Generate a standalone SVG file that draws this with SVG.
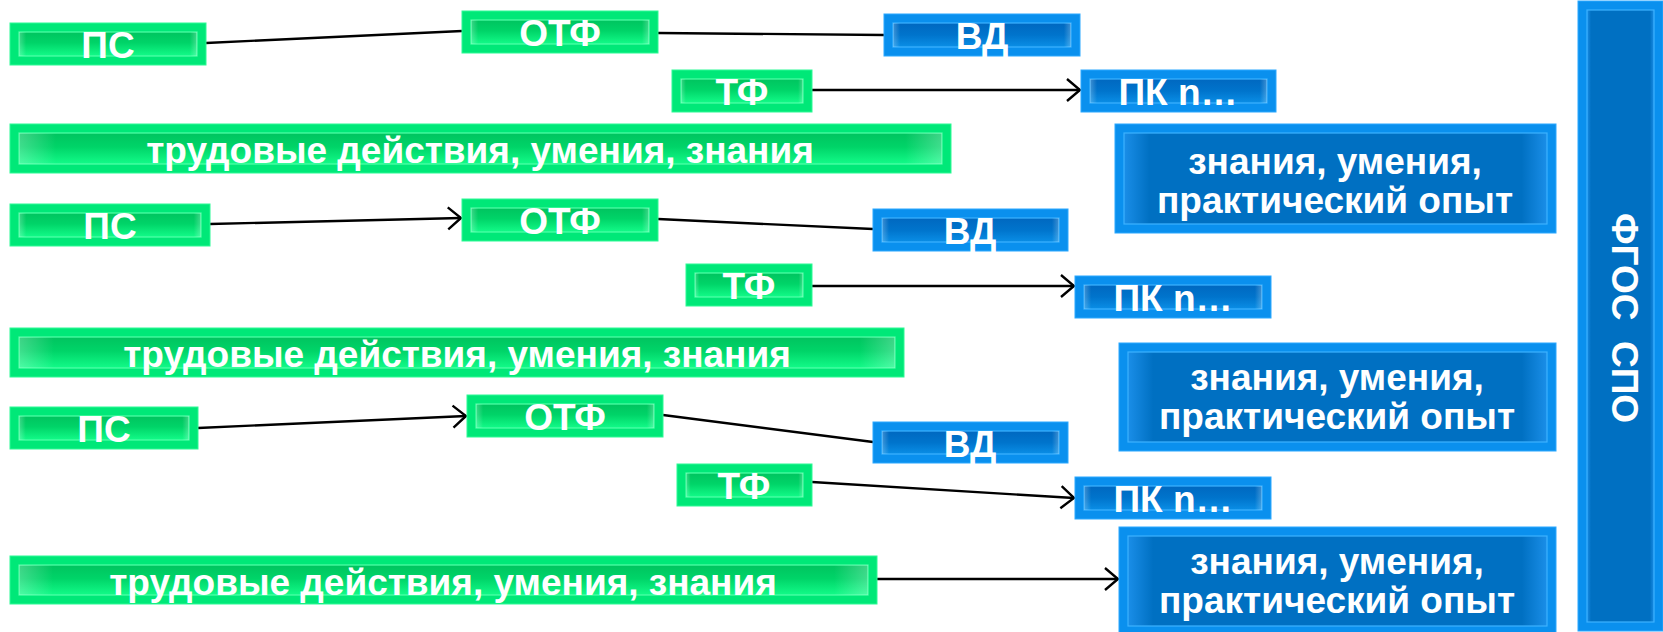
<svg xmlns="http://www.w3.org/2000/svg" width="1663" height="632" viewBox="0 0 1663 632">
<defs>
<linearGradient id="gIn" x1="0" y1="0" x2="0" y2="1">
<stop offset="0" stop-color="#00c45f"/><stop offset="0.45" stop-color="#00d468"/><stop offset="1" stop-color="#12fb88"/>
</linearGradient>
<linearGradient id="bIn" x1="0" y1="0" x2="0" y2="1">
<stop offset="0" stop-color="#0068c0"/><stop offset="0.5" stop-color="#0074cc"/><stop offset="1" stop-color="#0a8ee6"/>
</linearGradient>
<linearGradient id="bBig" x1="0" y1="0" x2="1" y2="0">
<stop offset="0" stop-color="#1a8ee8"/><stop offset="0.06" stop-color="#0070c2"/><stop offset="0.94" stop-color="#0070c2"/><stop offset="1" stop-color="#1a8ee8"/>
</linearGradient>
<linearGradient id="edge" x1="0" y1="0" x2="1" y2="0">
<stop offset="0" stop-color="#ffffff" stop-opacity="0.25"/><stop offset="0.04" stop-color="#ffffff" stop-opacity="0"/><stop offset="0.96" stop-color="#ffffff" stop-opacity="0"/><stop offset="1" stop-color="#ffffff" stop-opacity="0.25"/>
</linearGradient>
<marker id="arr" markerUnits="userSpaceOnUse" markerWidth="18" markerHeight="26" viewBox="-15 -13 18 26" refX="0" refY="0" orient="auto">
<path d="M-13,-11 L0,0 L-13,11" fill="none" stroke="#000" stroke-width="2.4"/>
</marker>
</defs>
<style>
.go{fill:#00e878;stroke:#2dfa95;stroke-width:1}
.gi{fill:url(#gIn);stroke:#50ffa8;stroke-width:1.2}
.bo{fill:#0a90ee;stroke:#2aa8ff;stroke-width:1}
.bi{fill:url(#bIn);stroke:#3db2ff;stroke-width:1.2}
.bb{fill:url(#bBig);stroke:#3db2ff;stroke-width:1.2}
.ov{fill:url(#edge)}
text{font-family:"Liberation Sans",Arial,sans-serif;font-weight:bold;fill:#ffffff;font-size:37px;text-anchor:middle}
.cn{stroke:#000;stroke-width:2.4;fill:none}
.ar{marker-end:url(#arr)}
</style>
<rect width="1663" height="632" fill="#ffffff"/>

<g id="connectors">
<line class="cn" x1="206" y1="43" x2="462" y2="31"/>
<line class="cn" x1="658" y1="33" x2="884" y2="35"/>
<line class="cn ar" x1="812" y1="90" x2="1080" y2="90"/>
<line class="cn ar" x1="210" y1="224" x2="461" y2="218"/>
<line class="cn" x1="658" y1="219" x2="873" y2="229"/>
<line class="cn ar" x1="812" y1="286" x2="1074" y2="286"/>
<line class="cn ar" x1="198" y1="428" x2="466" y2="416"/>
<line class="cn" x1="663" y1="415" x2="873" y2="442"/>
<line class="cn ar" x1="812" y1="482" x2="1074" y2="498"/>
<line class="cn ar" x1="877" y1="579" x2="1118" y2="579"/>
</g>

<g id="ps1"><rect class="go" x="10" y="23" width="196" height="42"/><rect class="gi" x="19" y="32" width="178" height="24"/><rect class="ov" x="19" y="32" width="178" height="24"/><text x="108" y="58">ПС</text></g>
<g id="otf1"><rect class="go" x="462" y="11" width="196" height="42"/><rect class="gi" x="471" y="20" width="178" height="24"/><rect class="ov" x="471" y="20" width="178" height="24"/><text x="560" y="46">ОТФ</text></g>
<g id="vd1"><rect class="bo" x="884" y="14" width="196" height="42"/><rect class="bi" x="893" y="23" width="178" height="24"/><rect class="ov" x="893" y="23" width="178" height="24"/><text x="982" y="49">ВД</text></g>
<g id="tf1"><rect class="go" x="672" y="70" width="140" height="42"/><rect class="gi" x="681" y="79" width="122" height="24"/><rect class="ov" x="681" y="79" width="122" height="24"/><text x="742" y="105">ТФ</text></g>
<g id="pk1"><rect class="bo" x="1081" y="70" width="195" height="42"/><rect class="bi" x="1090" y="79" width="177" height="24"/><rect class="ov" x="1090" y="79" width="177" height="24"/><text x="1178" y="105">ПК n…</text></g>
<g id="td1"><rect class="go" x="10" y="124" width="941" height="49"/><rect class="gi" x="19" y="133" width="923" height="31"/><rect class="ov" x="19" y="133" width="923" height="31"/><text x="480" y="163">трудовые действия, умения, знания</text></g>
<g id="zn1"><rect class="bo" x="1115" y="124" width="441" height="109"/><rect class="bb" x="1124" y="133" width="423" height="91"/><text x="1335" y="174">знания, умения,</text><text x="1335" y="213">практический опыт</text></g>

<g id="fgos"><rect class="bo" x="1578" y="1" width="85" height="630"/><rect class="bb" x="1587" y="10" width="67" height="612"/><text transform="translate(1626,318) rotate(90)" y="14" xml:space="preserve">ФГОС  СПО</text></g>

<g id="ps2"><rect class="go" x="10" y="204" width="200" height="42"/><rect class="gi" x="19" y="213" width="182" height="24"/><rect class="ov" x="19" y="213" width="182" height="24"/><text x="110" y="239">ПС</text></g>
<g id="otf2"><rect class="go" x="462" y="199" width="196" height="42"/><rect class="gi" x="471" y="208" width="178" height="24"/><rect class="ov" x="471" y="208" width="178" height="24"/><text x="560" y="234">ОТФ</text></g>
<g id="vd2"><rect class="bo" x="873" y="209" width="195" height="42"/><rect class="bi" x="882" y="218" width="177" height="24"/><rect class="ov" x="882" y="218" width="177" height="24"/><text x="970" y="244">ВД</text></g>
<g id="tf2"><rect class="go" x="686" y="264" width="126" height="42"/><rect class="gi" x="695" y="273" width="108" height="24"/><rect class="ov" x="695" y="273" width="108" height="24"/><text x="749" y="299">ТФ</text></g>
<g id="pk2"><rect class="bo" x="1075" y="276" width="196" height="42"/><rect class="bi" x="1084" y="285" width="178" height="24"/><rect class="ov" x="1084" y="285" width="178" height="24"/><text x="1173" y="311">ПК n…</text></g>
<g id="td2"><rect class="go" x="10" y="328" width="894" height="49"/><rect class="gi" x="19" y="337" width="876" height="31"/><rect class="ov" x="19" y="337" width="876" height="31"/><text x="457" y="367">трудовые действия, умения, знания</text></g>
<g id="zn2"><rect class="bo" x="1119" y="343" width="437" height="108"/><rect class="bb" x="1128" y="352" width="419" height="90"/><text x="1337" y="390">знания, умения,</text><text x="1337" y="429">практический опыт</text></g>

<g id="ps3"><rect class="go" x="10" y="407" width="188" height="42"/><rect class="gi" x="19" y="416" width="170" height="24"/><rect class="ov" x="19" y="416" width="170" height="24"/><text x="104" y="442">ПС</text></g>
<g id="otf3"><rect class="go" x="467" y="395" width="196" height="42"/><rect class="gi" x="476" y="404" width="178" height="24"/><rect class="ov" x="476" y="404" width="178" height="24"/><text x="565" y="430">ОТФ</text></g>
<g id="vd3"><rect class="bo" x="873" y="422" width="195" height="41"/><rect class="bi" x="882" y="431" width="177" height="23"/><rect class="ov" x="882" y="431" width="177" height="23"/><text x="970" y="457">ВД</text></g>
<g id="tf3"><rect class="go" x="677" y="464" width="135" height="42"/><rect class="gi" x="686" y="473" width="117" height="24"/><rect class="ov" x="686" y="473" width="117" height="24"/><text x="744" y="499">ТФ</text></g>
<g id="pk3"><rect class="bo" x="1075" y="477" width="196" height="42"/><rect class="bi" x="1084" y="486" width="178" height="24"/><rect class="ov" x="1084" y="486" width="178" height="24"/><text x="1173" y="512">ПК n…</text></g>
<g id="td3"><rect class="go" x="10" y="556" width="867" height="48"/><rect class="gi" x="19" y="565" width="849" height="30"/><rect class="ov" x="19" y="565" width="849" height="30"/><text x="443" y="595">трудовые действия, умения, знания</text></g>
<g id="zn3"><rect class="bo" x="1119" y="527" width="437" height="108"/><rect class="bb" x="1128" y="536" width="419" height="90"/><text x="1337" y="574">знания, умения,</text><text x="1337" y="613">практический опыт</text></g>
</svg>
